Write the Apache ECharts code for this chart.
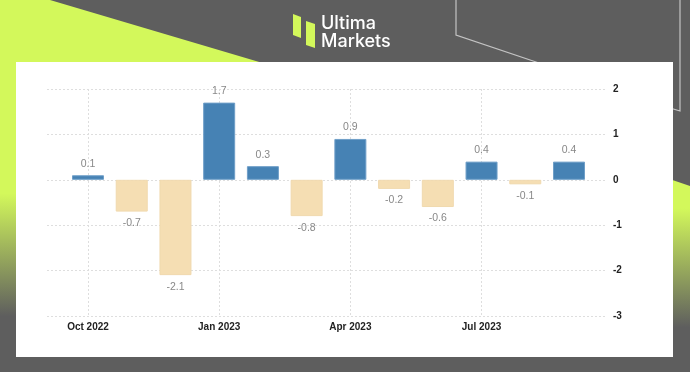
<!DOCTYPE html>
<html>
<head>
<meta charset="utf-8">
<script src="https://cdn.jsdelivr.net/npm/echarts@6/dist/echarts.min.js"></script>
<style>
html,body{margin:0;padding:0;background:#5e5e5e;}
#chart{width:690px;height:372px;}
</style>
</head>
<body>
<div id="chart"></div>
<script>
const months = ['Oct 2022','Nov 2022','Dec 2022','Jan 2023','Feb 2023','Mar 2023','Apr 2023','May 2023','Jun 2023','Jul 2023','Aug 2023','Sep 2023'];
const values = [0.1, -0.7, -2.1, 1.7, 0.3, -0.8, 0.9, -0.2, -0.6, 0.4, -0.1, 0.4];
const yMin = -3, yMax = 2, yStep = 1;
const brandLines = ['Ultima', 'Markets'];

const LIME = '#d3f85b';
const GRAY = '#5e5e5e';
const POS = '#4682b4';
const NEG = '#f5deb3';

const chart = echarts.init(document.getElementById('chart'), null, {renderer: 'canvas'});

const dotted = {color: '#dedede', type: [2, 2], width: 1};

const option = {
  backgroundColor: GRAY,
  animation: false,
  graphic: [
    {type: 'polygon', z: -20, shape: {points: [[0,0],[50,0],[320,80],[320,372],[0,372]]},
      style: {fill: {type: 'linear', x: 0, y: 0, x2: 0, y2: 372, global: true,
        colorStops: [{offset: 0, color: LIME}, {offset: 0.52, color: LIME}, {offset: 0.85, color: GRAY}, {offset: 1, color: GRAY}]}}},
    {type: 'polygon', z: -20, shape: {points: [[590,152],[690,186],[690,372],[590,372]]},
      style: {fill: {type: 'linear', x: 0, y: 0, x2: 0, y2: 372, global: true,
        colorStops: [{offset: 0, color: LIME}, {offset: 0.56, color: LIME}, {offset: 0.88, color: GRAY}, {offset: 1, color: GRAY}]}}},
    {type: 'polyline', z: -19, shape: {points: [[456,0],[456,35],[545,65]]}, style: {stroke: '#c4c4c4', lineWidth: 1.2, fill: null}},
    {type: 'polyline', z: -19, shape: {points: [[680,0],[680,111],[670,108]]}, style: {stroke: '#c4c4c4', lineWidth: 1.2, fill: null}},
    {type: 'rect', z: -15, shape: {x: 16, y: 62, width: 657, height: 295}, style: {fill: '#ffffff'}},
    {type: 'polygon', z: -10, shape: {points: [[293,14],[301,17],[301,38],[293,35]]}, style: {fill: LIME}},
    {type: 'polygon', z: -10, shape: {points: [[306,21],[315,24],[315,48],[306,45]]}, style: {fill: LIME}},
    {type: 'text', z: -10, x: 321, y: 24, style: {text: brandLines[0], fill: '#ffffff', font: '500 18px Inter, Roboto, sans-serif', verticalAlign: 'middle'}},
    {type: 'text', z: -10, x: 321, y: 42, style: {text: brandLines[1], fill: '#ffffff', font: '500 18px Inter, Roboto, sans-serif', verticalAlign: 'middle'}}
  ],
  grid: [
    {left: 47, right: 83, top: 89, bottom: 56, containLabel: false},
    {left: 88, right: 121, top: 89, bottom: 56, containLabel: false}
  ],
  xAxis: [
    {gridIndex: 0, type: 'category', data: months, show: false},
    {gridIndex: 1, type: 'category', data: months, boundaryGap: false,
      axisLine: {show: false}, axisTick: {show: false},
      axisLabel: {interval: 2, margin: 6, color: '#222', fontSize: 10, fontFamily: '"Liberation Sans", Arial, sans-serif', fontWeight: 'bold'},
      splitLine: {show: true, interval: 2, lineStyle: dotted}}
  ],
  yAxis: [
    {gridIndex: 0, type: 'value', position: 'right', min: yMin, max: yMax, interval: yStep,
      axisLine: {show: false}, axisTick: {show: false},
      axisLabel: {margin: 6, color: '#222', fontSize: 10, fontFamily: '"Liberation Sans", Arial, sans-serif', fontWeight: 'bold', align: 'left'},
      splitLine: {show: true, lineStyle: dotted}},
    {gridIndex: 1, type: 'value', min: yMin, max: yMax, interval: yStep, show: false, splitLine: {show: false}}
  ],
  series: [{
    type: 'bar',
    xAxisIndex: 1, yAxisIndex: 1,
    barWidth: 32,
    clip: false,
    data: values.map(v => ({
      value: v,
      itemStyle: {color: v >= 0 ? POS : NEG, borderColor: v >= 0 ? '#6f9fc8' : '#f0d9ae', borderWidth: 1},
      label: {position: v >= 0 ? 'top' : 'bottom'}
    })),
    label: {show: true, distance: 6, color: '#888888', fontSize: 10.5, fontFamily: '"Liberation Sans", Arial, sans-serif',
      formatter: p => p.value.toFixed(1)}
  }]
};
chart.setOption(option);
</script>
</body>
</html>
